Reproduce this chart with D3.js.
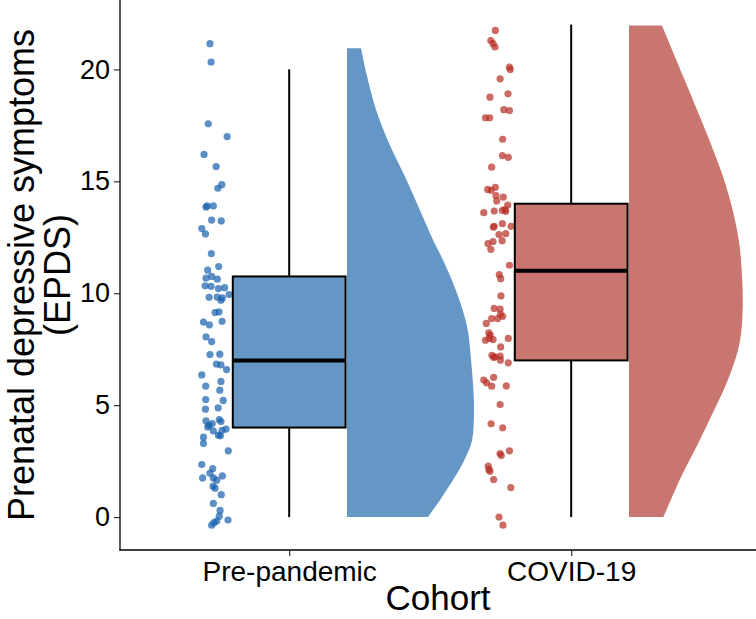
<!DOCTYPE html>
<html>
<head>
<meta charset="utf-8">
<script src="https://cdn.jsdelivr.net/npm/d3@7"></script>
<style>
  html, body { margin: 0; padding: 0; background: #fff; }
  svg { display: block; font-family: "Liberation Sans", Arial, Helvetica, sans-serif; }
</style>
</head>
<body>
<svg id="chart" width="756" height="619"></svg>
<script>
// ---------------- data ----------------
const categories = ["Pre-pandemic", "COVID-19"];
const yTicks = [0, 5, 10, 15, 20];

// box-plot statistics (EPDS)
const boxMin    = [0, 0];
const boxQ1     = [4, 7];
const boxMedian = [7, 11];
const boxQ3     = [10.75, 14];
const boxMax    = [20, 22];

// half-violin outline: EPDS level and half-width (in category units)
const preViolinLevels  = [0, 0.9, 1.8, 2.6, 3.4, 4.5, 5.5, 7, 8.5, 10, 11.5, 12.2, 13.7, 15.2, 16.7, 18.2, 19.7, 20.95];
const preViolinWidths  = [0.287, 0.337, 0.383, 0.418, 0.443, 0.450, 0.449, 0.440, 0.426, 0.390, 0.340, 0.312, 0.259, 0.206, 0.149, 0.103, 0.071, 0.050];
const covViolinLevels  = [0, 1.8, 3.29, 4.78, 6.26, 7.75, 9.24, 10.73, 12.22, 13.7, 15.19, 16.68, 18.17, 19.66, 21.96];
const covViolinWidths  = [0.122, 0.185, 0.245, 0.302, 0.355, 0.392, 0.403, 0.401, 0.391, 0.368, 0.334, 0.290, 0.242, 0.193, 0.117];

// individual scores (jitter offset in category units, EPDS value as drawn)
const preJitter = [-0.018,-0.014,-0.024,0.043,-0.039,0.004,0.024,0.010,-0.032,-0.028,-0.006,-0.012,0.022,-0.047,-0.034,-0.013,0.013,-0.026,-0.032,-0.012,0.008,-0.035,-0.014,0.012,0.034,0.050,-0.021,0.008,0.026,0.021,0,0.014,-0.041,-0.020,0.025,-0.032,-0.012,-0.018,0.017,0.005,0.021,0.041,-0.047,0.021,-0.033,0.017,-0.033,0.029,-0.034,0.011,-0.032,0.015,0.021,-0.021,-0.010,-0.006,-0.026,0.025,0.039,0.012,0.019,-0.041,-0.041,0.047,-0.047,-0.008,-0.018,-0.044,0.026,-0.006,0.006,0,-0.007,0.022,-0.006,0.018,0.015,0.046,0.006,-0.004,-0.012];
const preScores = [21.15,20.33,17.57,17.0,16.2,15.66,14.85,14.69,13.85,13.9,13.9,13.27,13.23,12.89,12.65,11.77,11.19,11.03,10.68,10.75,10.63,10.33,10.31,10.21,10.25,9.94,9.82,9.83,9.79,9.69,9.14,9.17,8.71,8.59,8.75,8.05,7.84,7.26,7.28,6.83,6.8,6.59,6.35,6.06,5.85,5.67,5.25,5.21,4.82,4.88,4.3,4.36,4.27,4.1,4.18,3.85,4.03,3.88,3.93,3.66,3.63,3.57,3.29,2.96,2.35,2.17,1.96,1.75,1.84,1.75,1.65,1.29,1.38,1.0,0.61,0.3,0.04,-0.13,-0.18,-0.25,-0.36];
const covJitter = [-0.006,-0.022,-0.014,-0.007,0.044,0.047,0.011,-0.025,0.039,0.024,0.044,-0.041,-0.026,0.020,0.019,0.040,-0.019,-0.033,-0.021,-0.006,-0.004,0.022,-0.001,0.038,-0.047,-0.010,0.019,0.028,0.031,-0.010,-0.013,0.019,0.050,0.007,0.031,-0.032,-0.014,0.018,-0.022,0.044,0.008,0.013,0.014,-0.010,0.011,-0.019,0.002,0.020,0.012,-0.038,-0.029,-0.024,-0.041,-0.027,-0.014,0.040,0.013,-0.018,-0.012,-0.007,0.011,0.012,0.040,-0.047,-0.037,-0.019,-0.012,0.033,0.011,-0.021,0.020,0.011,0.015,0.044,-0.031,-0.029,-0.025,-0.012,0.049,0.007,0.021];
const covScores = [21.74,21.29,21.15,21.0,20.1,19.99,19.58,18.76,18.91,18.2,18.16,17.84,17.84,16.88,16.15,16.07,15.63,14.64,14.6,14.73,14.36,14.29,14.12,13.94,13.6,13.67,13.7,13.74,13.66,12.99,12.95,13.11,12.99,12.62,12.66,12.22,12.31,12.35,11.96,11.25,10.83,10.65,9.88,9.32,9.29,8.87,8.87,8.97,9.06,8.65,8.23,8.13,7.9,7.98,7.93,7.98,7.6,7.23,7.13,7.16,7.19,7.01,6.89,6.12,6.0,5.85,6.24,5.86,5.03,4.17,3.99,2.84,2.75,2.96,2.28,2.13,2.05,1.68,1.32,0.0,-0.36];

// ---------------- styles ----------------
const violinFill = ["#6497C6", "#C97570"];
const pointFill  = ["#1560ad", "#b72c22"];
const pointNudge = -0.263;
const violinNudge = 0.205;
const boxHalf = 0.2;

// ---------------- layout ----------------
const svg = d3.select("#chart");
const panel = { left: 120, right: 756, top: 0, bottom: 550 };

const x = d3.scaleLinear().domain([0.4, 2.6554]).range([panel.left, panel.right]);
const y = d3.scaleLinear().domain([-1.47, 23.1]).range([panel.bottom, panel.top]);

const groups = categories.map((c, i) => ({
  name: c, pos: i + 1,
  levels: i === 0 ? preViolinLevels : covViolinLevels,
  widths: i === 0 ? preViolinWidths : covViolinWidths,
  jitter: i === 0 ? preJitter : covJitter,
  scores: i === 0 ? preScores : covScores
}));

const g = svg.append("g");

// violins (flat side at the nudged position, curved outline to the right)
groups.forEach((grp, i) => {
  const base = x(grp.pos + violinNudge);
  const outline = grp.levels.map((v, k) => [x(grp.pos + violinNudge + grp.widths[k]), y(v)]);
  const curve = d3.line().curve(d3.curveCatmullRom.alpha(0.5));
  const top = outline[outline.length - 1];
  const bottom = outline[0];
  let d = curve(outline);
  d += `L${base},${top[1]}L${base},${bottom[1]}Z`;
  g.append("path").attr("d", d).attr("fill", violinFill[i]).attr("stroke", "none");
});

// points
groups.forEach((grp, i) => {
  g.append("g").selectAll("circle")
    .data(grp.scores.map((s, k) => ({ s, j: grp.jitter[k] })))
    .join("circle")
    .attr("cx", d => x(grp.pos + pointNudge + d.j))
    .attr("cy", d => y(d.s))
    .attr("r", 3.6)
    .attr("fill", pointFill[i])
    .attr("fill-opacity", 0.7);
});

// boxplots
groups.forEach((grp, i) => {
  const bx = g.append("g");
  bx.append("line")
    .attr("x1", x(grp.pos)).attr("x2", x(grp.pos))
    .attr("y1", y(boxQ3[i])).attr("y2", y(boxMax[i]))
    .attr("stroke", "#000").attr("stroke-width", 2);
  bx.append("line")
    .attr("x1", x(grp.pos)).attr("x2", x(grp.pos))
    .attr("y1", y(boxQ1[i])).attr("y2", y(boxMin[i]))
    .attr("stroke", "#000").attr("stroke-width", 2);
  bx.append("rect")
    .attr("x", x(grp.pos - boxHalf))
    .attr("width", x(grp.pos + boxHalf) - x(grp.pos - boxHalf))
    .attr("y", y(boxQ3[i]))
    .attr("height", y(boxQ1[i]) - y(boxQ3[i]))
    .attr("fill", violinFill[i])
    .attr("stroke", "#000").attr("stroke-width", 2);
  bx.append("line")
    .attr("x1", x(grp.pos - boxHalf)).attr("x2", x(grp.pos + boxHalf))
    .attr("y1", y(boxMedian[i])).attr("y2", y(boxMedian[i]))
    .attr("stroke", "#000").attr("stroke-width", 4);
});

// axes
const yAxis = d3.axisLeft(y).tickValues(yTicks).tickSize(6).tickPadding(4).tickFormat(d3.format("d"));
const yG = svg.append("g").attr("transform", `translate(${panel.left},0)`).call(yAxis);
yG.select(".domain").remove();
yG.selectAll(".tick line").attr("stroke", "#333").attr("stroke-width", 1.2);
yG.selectAll(".tick text").attr("fill", "#000").style("font-size", "27px");

const xAxis = d3.axisBottom(x).tickValues([1, 2]).tickSize(6).tickPadding(5)
  .tickFormat(d => categories[d - 1]);
const xG = svg.append("g").attr("transform", `translate(0,${panel.bottom})`).call(xAxis);
xG.select(".domain").remove();
xG.selectAll(".tick line").attr("stroke", "#333").attr("stroke-width", 1.2);
xG.selectAll(".tick text").attr("fill", "#000").style("font-size", "28px");

// axis lines
svg.append("line").attr("x1", panel.left).attr("x2", panel.left)
  .attr("y1", panel.top).attr("y2", panel.bottom + 0.6)
  .attr("stroke", "#000").attr("stroke-width", 1.3);
svg.append("line").attr("x1", panel.left - 0.6).attr("x2", panel.right)
  .attr("y1", panel.bottom).attr("y2", panel.bottom)
  .attr("stroke", "#000").attr("stroke-width", 1.3);

// titles
svg.append("text")
  .attr("x", (panel.left + panel.right) / 2).attr("y", 610)
  .attr("text-anchor", "middle").style("font-size", "35px").attr("fill", "#000")
  .text("Cohort");

const yt = svg.append("text")
  .attr("transform", `translate(34,${(panel.top + panel.bottom) / 2}) rotate(-90)`)
  .attr("text-anchor", "middle").style("font-size", "36px").attr("fill", "#000");
yt.append("tspan").attr("x", 0).attr("y", 0).text("Prenatal depressive symptoms");
yt.append("tspan").attr("x", 0).attr("y", 36).text("(EPDS)");
</script>
</body>
</html>
